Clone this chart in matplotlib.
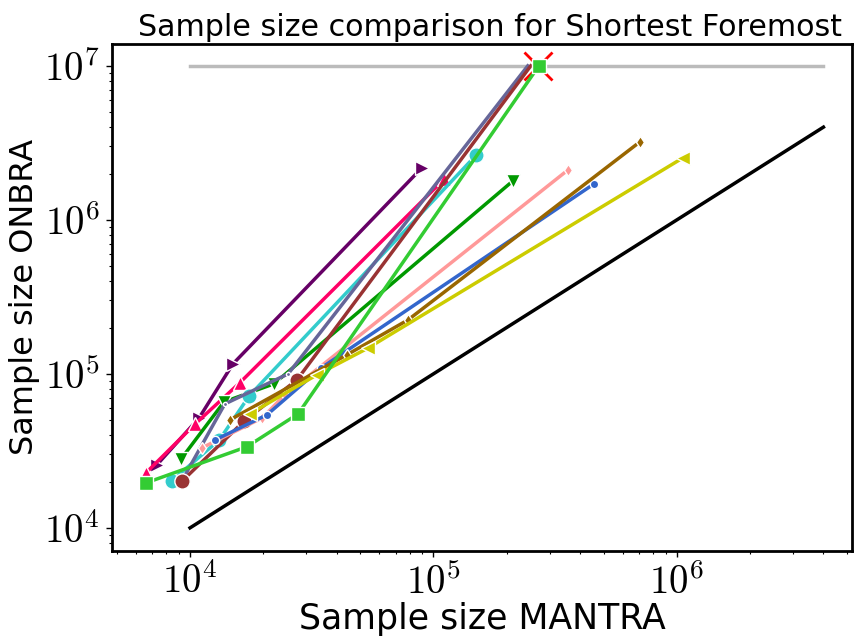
import matplotlib
matplotlib.use("Agg")
import numpy as np
import matplotlib.pyplot as plt
from matplotlib.ticker import FuncFormatter

plt.rcParams["font.family"] = ["DejaVu Sans"]
plt.rcParams["mathtext.fontset"] = "cm"

# sample sizes (MANTRA on x, ONBRA on y), one list per dataset
purple_x = [7.3e3, 1.09e4, 1.5e4, 8.97e4]
purple_y = [2.56e4, 5.18e4, 1.16e5, 2.18e6]
pink_x = [6.6e3, 1.05e4, 1.6e4, 1.11e5]
pink_y = [2.28e4, 4.73e4, 8.74e4, 1.85e6]
dgreen_x = [9.2e3, 1.38e4, 2.21e4, 2.12e5]
dgreen_y = [2.81e4, 6.58e4, 8.61e4, 1.79e6]
cyan_x = [8.4e3, 1.32e4, 1.75e4, 1.5e5]
cyan_y = [2.02e4, 3.73e4, 7.19e4, 2.64e6]
slate_x = [9.4e3, 1.39e4, 2.53e4, 2.44e5]
slate_y = [2.11e4, 6.38e4, 1.0e5, 1.0e7]
maroon_x = [9.3e3, 1.67e4, 2.75e4, 2.51e5]
maroon_y = [2.02e4, 4.95e4, 9.14e4, 1.0e7]
lime_x = [6.6e3, 1.71e4, 2.78e4, 2.71e5]
lime_y = [1.96e4, 3.36e4, 5.5e4, 1.0e7]
salmon_x = [1.12e4, 1.98e4, 2.45e4, 3.57e5]
salmon_y = [3.31e4, 5.18e4, 7.3e4, 2.11e6]
blue_x = [1.27e4, 2.07e4, 3.45e4, 4.56e5]
blue_y = [3.73e4, 5.42e4, 1.09e5, 1.71e6]
brown_x = [1.46e4, 4.41e4, 7.86e4, 7.05e5]
brown_y = [5.03e4, 1.33e5, 2.24e5, 3.21e6]
yellow_x = [1.76e4, 3.32e4, 5.38e4, 1.06e6]
yellow_y = [5.5e4, 9.86e4, 1.47e5, 2.53e6]

ref_x = [1e4, 4e6]
cap_y = [1e7, 1e7]
timeout_x = [2.68e5]
timeout_y = [1e7]

# (x, y, colour, marker, size, mark last point?)
series = [
    (purple_x, purple_y, "#660066", ">", 10, True),
    (pink_x, pink_y, "#ff0066", "^", 10, True),
    (dgreen_x, dgreen_y, "#009900", "v", 10, True),
    (cyan_x, cyan_y, "#33cccc", "o", 11, True),
    (slate_x, slate_y, "#666699", ".", 6, False),
    (maroon_x, maroon_y, "#993333", "o", 11, False),
    (salmon_x, salmon_y, "#ff9999", "d", 6, True),
    (blue_x, blue_y, "#3366cc", "o", 6, True),
    (brown_x, brown_y, "#996600", "d", 6, True),
    (yellow_x, yellow_y, "#cccc00", "<", 10, True),
    (lime_x, lime_y, "#33cc33", "s", 10, True),
]

fig = plt.figure(figsize=(8.56, 6.39), dpi=100)
ax = fig.add_axes([0.131, 0.138, 0.8645, 0.7934])

ax.plot(ref_x, cap_y, color="#bbbbbb", lw=2.5, zorder=1)
ax.plot(ref_x, ref_x, color="black", lw=2.5, zorder=1)
ax.plot(timeout_x, timeout_y, "x", color="red", markersize=20, mew=2, zorder=2)

for xs, ys, col, mk, ms, last in series:
    every = None if last else list(range(len(xs) - 1))
    ax.plot(xs, ys, color=col, marker=mk, markersize=ms, lw=2.5,
            markeredgecolor="white", markeredgewidth=1, markevery=every,
            zorder=3)

ax.set_xscale("log")
ax.set_yscale("log")
ax.set_xlim(10 ** 3.68, 10 ** 6.72)
ax.set_ylim(10 ** 3.851, 10 ** 7.143)

pow_fmt = FuncFormatter(lambda v, p: rf"$10^{{{int(round(np.log10(v)))}}}$")
ax.xaxis.set_major_formatter(pow_fmt)
ax.yaxis.set_major_formatter(pow_fmt)

for s in ax.spines.values():
    s.set_linewidth(2)
ax.tick_params(which="major", labelsize=28, length=4, width=1, pad=5)
ax.tick_params(which="minor", length=2.5, width=0.8)

ax.set_xlabel("Sample size MANTRA", fontsize=25, labelpad=0)
ax.set_ylabel("Sample size ONBRA", fontsize=23, labelpad=3)
ax.set_title("Sample size comparison for Shortest Foremost", fontsize=21.7,
             x=0.51)

fig.savefig("out.png", dpi=100)
